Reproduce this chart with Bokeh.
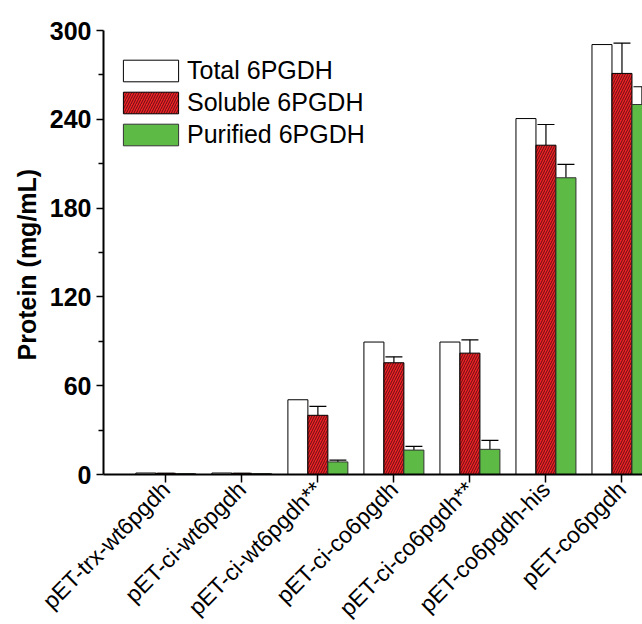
from bokeh.plotting import figure
from bokeh.models import (ColumnDataSource, Range1d, FixedTicker, Whisker, TeeHead,
                          Legend, LegendItem, Title)
from bokeh.transform import dodge
from bokeh.embed import file_html
from bokeh.resources import INLINE
import math

# ---- data ----
constructs = ["pET-trx-wt6pgdh", "pET-ci-wt6pgdh", "pET-ci-wt6pgdh**", "pET-ci-co6pgdh",
              "pET-ci-co6pgdh**", "pET-co6pgdh-his", "pET-co6pgdh"]
positions = [1, 2, 3, 4, 5, 6, 7]
total = [1.0, 1.0, 50.5, 89.5, 89.5, 240.5, 290.5]
soluble = [0.8, 0.8, 40.0, 75.5, 82.0, 222.5, 271.0]
soluble_err = [0.0, 0.0, 6.0, 4.0, 9.0, 14.0, 20.5]
purified = [0.5, 0.5, 8.5, 16.5, 17.0, 200.5, 250.0]
purified_err = [0.0, 0.0, 1.2, 2.5, 6.0, 9.0, 12.0]
y_ticks = [0, 60, 120, 180, 240, 300]
y_minor = [30, 90, 150, 210, 270]
y_title = "Protein (mg/mL)"

src = ColumnDataSource(dict(
    x=positions, total=total, soluble=soluble, purified=purified,
    sol_up=[v + e for v, e in zip(soluble, soluble_err)],
    pur_up=[v + e for v, e in zip(purified, purified_err)],
))

FONT = "Liberation Sans"
RED = "#ec2227"
GREEN = "#5cba45"
off = 0.263
bw = 0.263

p = figure(frame_width=539, frame_height=444, output_backend="svg", toolbar_location=None,
           x_range=Range1d(0.18, 7.27), y_range=Range1d(0, 300))
p.min_border_left = 103
p.min_border_top = 30
p.min_border_right = 0
p.min_border_bottom = 150
p.outline_line_color = None
p.grid.visible = False
p.background_fill_color = "white"

r_tot = p.vbar(x=dodge("x", -off), top="total", width=bw, source=src,
               fill_color="white", line_color="black", line_width=1)
r_sol = p.vbar(x=dodge("x", 0), top="soluble", width=bw, source=src,
               fill_color=RED, line_color="black", line_width=1,
               hatch_pattern="right_diagonal_line", hatch_color="#3a0a0a",
               hatch_alpha=0.75, hatch_scale=5, hatch_weight=1)
r_pur = p.vbar(x=dodge("x", off), top="purified", width=bw, source=src,
               fill_color=GREEN, line_color="#333333", line_width=1)

for col_lo, col_up, d in (("soluble", "sol_up", 0.0), ("purified", "pur_up", off)):
    w = Whisker(base=dodge("x", d), lower=col_lo, upper=col_up, source=src,
                dimension="height", line_color="black", line_width=1.2,
                lower_head=None,
                upper_head=TeeHead(size=17, line_color="black", line_width=1.2))
    p.add_layout(w)

# axes
p.xaxis.ticker = FixedTicker(ticks=positions)
p.xaxis.major_label_overrides = {pos: name for pos, name in zip(positions, constructs)}
p.xaxis.major_label_orientation = math.pi / 4
p.xaxis.major_label_text_font = FONT
p.xaxis.major_label_text_font_size = "23px"
p.xaxis.major_label_text_color = "black"
p.xaxis.major_label_standoff = 3
p.xaxis.minor_tick_line_color = None
p.xaxis.major_tick_out = 8
p.xaxis.major_tick_in = 0
p.xaxis.major_tick_line_width = 1.5
p.xaxis.axis_line_width = 2

p.yaxis.ticker = FixedTicker(ticks=y_ticks, minor_ticks=y_minor)
p.yaxis.major_label_text_font = FONT
p.yaxis.major_label_text_font_style = "bold"
p.yaxis.major_label_text_font_size = "25px"
p.yaxis.major_label_text_color = "black"
p.yaxis.major_tick_out = 7
p.yaxis.major_tick_in = 0
p.yaxis.minor_tick_out = 5
p.yaxis.minor_tick_in = 0
p.yaxis.major_tick_line_width = 1.5
p.yaxis.minor_tick_line_width = 1.5
p.yaxis.axis_line_width = 2
p.yaxis.major_label_standoff = 5

# y-axis title as a side title (allows placing it below the frame centre)
ytitle = Title(text=y_title, align="left", offset=114, standoff=11,
               text_font=FONT, text_font_style="bold", text_font_size="25px",
               text_color="black")
p.add_layout(ytitle, "left")

legend = Legend(items=[
    LegendItem(label="Total 6PGDH", renderers=[r_tot]),
    LegendItem(label="Soluble 6PGDH", renderers=[r_sol]),
    LegendItem(label="Purified 6PGDH", renderers=[r_pur]),
], location=(13, 325))
legend.glyph_width = 69
legend.glyph_height = 27
legend.label_height = 27
legend.spacing = 3
legend.padding = 0
legend.margin = 0
legend.label_standoff = 2
legend.label_text_font = FONT
legend.label_text_font_size = "25px"
legend.label_text_color = "black"
legend.background_fill_alpha = 0
legend.border_line_color = None
p.add_layout(legend, "center")

open("out.html", "w").write(file_html(p, INLINE))
